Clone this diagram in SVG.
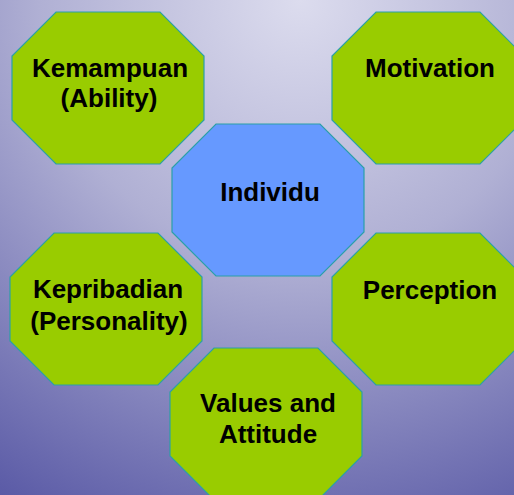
<svg xmlns="http://www.w3.org/2000/svg" xmlns:xlink="http://www.w3.org/1999/xlink" width="514" height="495" viewBox="0 0 514 495">
  <defs>
    <radialGradient id="bg" cx="300" cy="0" r="580" gradientUnits="userSpaceOnUse">
      <stop offset="0" stop-color="#dcdcee"/>
      <stop offset="0.45" stop-color="#b0b0d4"/>
      <stop offset="1" stop-color="#5a5aa6"/>
    </radialGradient>
    <polygon id="oct" points="44,0 148,0 192,44 192,108 148,152 44,152 0,108 0,44"/>
  </defs>
  <style>
    .green { fill: #99cc00; stroke: #2aa0a8; stroke-width: 1.2; }
    .blue { fill: #6699ff; stroke: #2aa0a8; stroke-width: 1.2; }
    .lbl { font-family: "Liberation Sans", Arial, sans-serif; font-size: 26px; font-weight: bold; fill: #000; text-anchor: middle; }
  </style>
  <rect x="0" y="0" width="514" height="495" fill="url(#bg)"/>
  <g id="connectors"></g>
  <g id="node-kemampuan">
    <use xlink:href="#oct" href="#oct" class="green" transform="translate(12,12)"/>
    <text class="lbl" x="110" y="77">Kemampuan</text>
    <text class="lbl" x="109" y="107">(Ability)</text>
  </g>
  <g id="node-motivation">
    <use xlink:href="#oct" href="#oct" class="green" transform="translate(332,12)"/>
    <text class="lbl" x="430" y="77">Motivation</text>
  </g>
  <g id="node-individu">
    <use xlink:href="#oct" href="#oct" class="blue" transform="translate(172,124)"/>
    <text class="lbl" x="270" y="201">Individu</text>
  </g>
  <g id="node-kepribadian">
    <use xlink:href="#oct" href="#oct" class="green" transform="translate(10,233)"/>
    <text class="lbl" x="108" y="298">Kepribadian</text>
    <text class="lbl" x="109" y="330">(Personality)</text>
  </g>
  <g id="node-perception">
    <use xlink:href="#oct" href="#oct" class="green" transform="translate(332,233)"/>
    <text class="lbl" x="430" y="299">Perception</text>
  </g>
  <g id="node-values">
    <use xlink:href="#oct" href="#oct" class="green" transform="translate(170,348)"/>
    <text class="lbl" x="268" y="412">Values and</text>
    <text class="lbl" x="268" y="443">Attitude</text>
  </g>
</svg>
